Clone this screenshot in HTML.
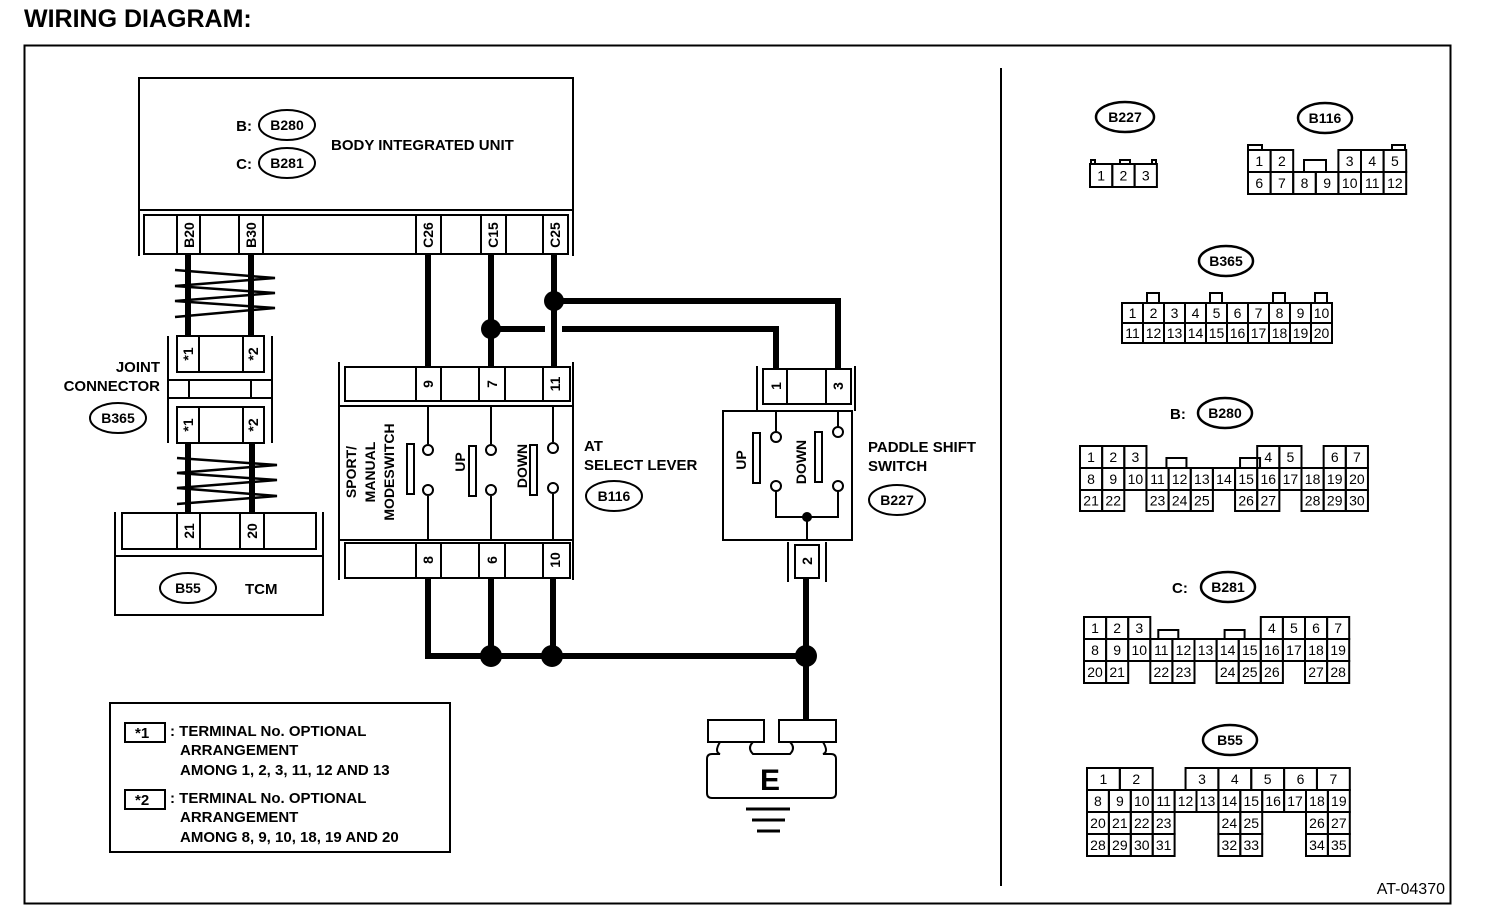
<!DOCTYPE html>
<html><head><meta charset="utf-8"><style>
html,body{margin:0;padding:0;background:#fff}
svg{display:block}
text{font-family:"Liberation Sans",sans-serif;font-weight:bold;fill:#000}
</style></head><body>
<svg id="s" width="1504" height="914" viewBox="0 0 1504 914" xmlns="http://www.w3.org/2000/svg">
<text x="24" y="27" font-size="25">WIRING DIAGRAM:</text>
<rect x="24.5" y="45.5" width="1426" height="858" fill="none" stroke="#000" stroke-width="2"/>
<line x1="1001" y1="68" x2="1001" y2="886" stroke="#000" stroke-width="2"/>
<text x="1445" y="894" font-size="16" text-anchor="end" style="font-weight:normal">AT-04370</text>

<g fill="none" stroke="#000" stroke-width="2">
<rect x="139" y="78" width="434" height="132"/>
<line x1="139" y1="210" x2="139" y2="256"/><line x1="573" y1="210" x2="573" y2="256"/>
<rect x="144" y="215" width="424" height="39"/>
<line x1="177" y1="215" x2="177" y2="254"/><line x1="200" y1="215" x2="200" y2="254"/>
<line x1="239" y1="215" x2="239" y2="254"/><line x1="263" y1="215" x2="263" y2="254"/>
<line x1="416" y1="215" x2="416" y2="254"/><line x1="441" y1="215" x2="441" y2="254"/>
<line x1="481" y1="215" x2="481" y2="254"/><line x1="506" y1="215" x2="506" y2="254"/>
<line x1="543" y1="215" x2="543" y2="254"/>
<ellipse cx="287" cy="125" rx="28" ry="15"/>
<ellipse cx="287" cy="163" rx="28" ry="15"/>

<rect x="177" y="336" width="87" height="36"/>
<line x1="199" y1="336" x2="199" y2="372"/><line x1="243" y1="336" x2="243" y2="372"/>
<line x1="168" y1="336" x2="168" y2="443"/><line x1="272" y1="336" x2="272" y2="443"/>
<line x1="168" y1="380" x2="272" y2="380"/><line x1="168" y1="398" x2="272" y2="398"/>
<line x1="189" y1="380" x2="189" y2="398"/><line x1="251" y1="380" x2="251" y2="398"/>
<rect x="177" y="407" width="87" height="36"/>
<line x1="199" y1="407" x2="199" y2="443"/><line x1="243" y1="407" x2="243" y2="443"/>
<ellipse cx="118" cy="418" rx="28" ry="15"/>
<polyline stroke-width="2.5" points="175,270 275,278 175,286 275,293 175,301 275,308 175,317"/>
<polyline stroke-width="2.5" points="177,458 277,465 177,473 277,480 177,488 277,496 177,504"/>

<line x1="115" y1="512" x2="115" y2="556"/><line x1="323" y1="512" x2="323" y2="556"/>
<rect x="122" y="513" width="194" height="36"/>
<line x1="177" y1="513" x2="177" y2="549"/><line x1="200" y1="513" x2="200" y2="549"/>
<line x1="240" y1="513" x2="240" y2="549"/><line x1="264" y1="513" x2="264" y2="549"/>
<rect x="115" y="556" width="208" height="59"/>
<ellipse cx="188" cy="588" rx="28" ry="15"/>

<line x1="339" y1="362" x2="339" y2="580"/><line x1="573" y1="362" x2="573" y2="580"/>
<rect x="345" y="367" width="225" height="34"/>
<line x1="416" y1="367" x2="416" y2="401"/><line x1="441" y1="367" x2="441" y2="401"/>
<line x1="479" y1="367" x2="479" y2="401"/><line x1="505" y1="367" x2="505" y2="401"/>
<line x1="543" y1="367" x2="543" y2="401"/>
<line x1="339" y1="406" x2="573" y2="406"/><line x1="339" y1="540" x2="573" y2="540"/>
<rect x="345" y="543" width="225" height="35"/>
<line x1="416" y1="543" x2="416" y2="578"/><line x1="441" y1="543" x2="441" y2="578"/>
<line x1="479" y1="543" x2="479" y2="578"/><line x1="505" y1="543" x2="505" y2="578"/>
<line x1="543" y1="543" x2="543" y2="578"/>
<line x1="428" y1="406" x2="428" y2="444"/><line x1="428" y1="496" x2="428" y2="540"/>
<line x1="491" y1="406" x2="491" y2="444"/><line x1="491" y1="496" x2="491" y2="540"/>
<line x1="553" y1="406" x2="553" y2="442"/><line x1="553" y1="494" x2="553" y2="540"/>
<circle cx="428" cy="450" r="5"/><circle cx="428" cy="490" r="5"/>
<circle cx="491" cy="450" r="5"/><circle cx="491" cy="490" r="5"/>
<circle cx="553" cy="448" r="5"/><circle cx="553" cy="488" r="5"/>
<rect x="407" y="444" width="7" height="50"/>
<rect x="469" y="446" width="7" height="50"/>
<rect x="530" y="445" width="7" height="50"/>
<ellipse cx="614" cy="496" rx="28" ry="15"/>

<line x1="757" y1="366" x2="757" y2="411"/><line x1="855" y1="366" x2="855" y2="411"/>
<rect x="763" y="369" width="88" height="35"/>
<line x1="787" y1="369" x2="787" y2="404"/><line x1="826" y1="369" x2="826" y2="404"/>
<rect x="723" y="411" width="129" height="129"/>
<line x1="776" y1="411" x2="776" y2="432"/><line x1="838" y1="411" x2="838" y2="427"/>
<circle cx="776" cy="437" r="5"/><circle cx="776" cy="486" r="5"/>
<circle cx="838" cy="432" r="5"/><circle cx="838" cy="486" r="5"/>
<rect x="753" y="433" width="7" height="50"/>
<rect x="815" y="432" width="7" height="50"/>
<polyline points="776,491 776,517 838,517 838,491"/>
<line x1="807" y1="517" x2="807" y2="540"/>
<line x1="788" y1="542" x2="788" y2="582"/><line x1="826" y1="542" x2="826" y2="582"/>
<rect x="795" y="545" width="24" height="33"/>
<ellipse cx="897" cy="500" rx="28" ry="15"/>

<rect x="708" y="720" width="56" height="22"/>
<rect x="779" y="720" width="57" height="22"/>
<path d="M720,742 q-6,10 0,12 H712 q-5,0 -5,5 V793 q0,5 5,5 H831 q5,0 5,-5 V759 q0,-5 -5,-5 H823 q6,-2 0,-12 M753,742 q-6,6 0,12 H790 q6,-6 0,-12"/>
<line x1="746" y1="809" x2="790" y2="809" stroke-width="3"/>
<line x1="752" y1="820" x2="785" y2="820" stroke-width="3"/>
<line x1="757" y1="831" x2="780" y2="831" stroke-width="3"/>

<rect x="110" y="703" width="340" height="149"/>
<rect x="125" y="723" width="40" height="19"/>
<rect x="125" y="790" width="40" height="19"/>
</g>

<g stroke="#000" stroke-width="6" fill="none">
<line x1="188" y1="255" x2="188" y2="336"/><line x1="251" y1="255" x2="251" y2="336"/>
<line x1="188" y1="443" x2="188" y2="513"/><line x1="252" y1="443" x2="252" y2="513"/>
<line x1="428" y1="255" x2="428" y2="367"/>
<line x1="491" y1="255" x2="491" y2="367"/>
<line x1="554" y1="255" x2="554" y2="367"/>
<polyline points="554,301 838,301 838,369"/>
<line x1="491" y1="329" x2="545" y2="329"/>
<polyline points="562,329 776,329 776,369"/>
<polyline points="428,578 428,656 806,656"/>
<line x1="491" y1="578" x2="491" y2="656"/>
<line x1="553" y1="578" x2="553" y2="656"/>
<line x1="806" y1="578" x2="806" y2="720"/>
</g>
<g fill="#000">
<circle cx="554" cy="301" r="10"/><circle cx="491" cy="329" r="10"/>
<circle cx="491" cy="656" r="11"/><circle cx="552" cy="656" r="11"/><circle cx="806" cy="656" r="11"/>
<circle cx="807" cy="517" r="5"/>
</g>

<g font-size="15">
<text x="252" y="131" text-anchor="end">B:</text>
<text x="252" y="169" text-anchor="end">C:</text>
<text x="331" y="150">BODY INTEGRATED UNIT</text>
<text x="160" y="372" text-anchor="end">JOINT</text>
<text x="160" y="391" text-anchor="end">CONNECTOR</text>
<text x="584" y="451">AT</text>
<text x="584" y="470">SELECT LEVER</text>
<text x="868" y="452">PADDLE SHIFT</text>
<text x="868" y="471">SWITCH</text>
<text x="245" y="594">TCM</text>
</g>
<g font-size="14" text-anchor="middle">
<text x="287" y="130">B280</text>
<text x="287" y="168">B281</text>
<text x="118" y="423">B365</text>
<text x="188" y="593">B55</text>
<text x="614" y="501">B116</text>
<text x="897" y="505">B227</text>
</g>
<g font-size="14">
<text transform="translate(194,235) rotate(-90)" text-anchor="middle">B20</text>
<text transform="translate(256,235) rotate(-90)" text-anchor="middle">B30</text>
<text transform="translate(433,235) rotate(-90)" text-anchor="middle">C26</text>
<text transform="translate(498,235) rotate(-90)" text-anchor="middle">C15</text>
<text transform="translate(560,235) rotate(-90)" text-anchor="middle">C25</text>
<text transform="translate(193,354) rotate(-90)" text-anchor="middle">*1</text>
<text transform="translate(258,354) rotate(-90)" text-anchor="middle">*2</text>
<text transform="translate(193,425) rotate(-90)" text-anchor="middle">*1</text>
<text transform="translate(258,425) rotate(-90)" text-anchor="middle">*2</text>
<text transform="translate(194,531) rotate(-90)" text-anchor="middle">21</text>
<text transform="translate(257,531) rotate(-90)" text-anchor="middle">20</text>
<text transform="translate(433,384) rotate(-90)" text-anchor="middle">9</text>
<text transform="translate(497,384) rotate(-90)" text-anchor="middle">7</text>
<text transform="translate(560,384) rotate(-90)" text-anchor="middle">11</text>
<text transform="translate(433,560) rotate(-90)" text-anchor="middle">8</text>
<text transform="translate(497,560) rotate(-90)" text-anchor="middle">6</text>
<text transform="translate(560,560) rotate(-90)" text-anchor="middle">10</text>
<text transform="translate(781,386) rotate(-90)" text-anchor="middle">1</text>
<text transform="translate(843,386) rotate(-90)" text-anchor="middle">3</text>
<text transform="translate(812,561) rotate(-90)" text-anchor="middle">2</text>
<text transform="translate(356,472) rotate(-90)" text-anchor="middle">SPORT/</text>
<text transform="translate(375,472) rotate(-90)" text-anchor="middle">MANUAL</text>
<text transform="translate(394,472) rotate(-90)" text-anchor="middle">MODESWITCH</text>
<text transform="translate(465,462) rotate(-90)" text-anchor="middle">UP</text>
<text transform="translate(527,466) rotate(-90)" text-anchor="middle">DOWN</text>
<text transform="translate(746,460) rotate(-90)" text-anchor="middle">UP</text>
<text transform="translate(806,462) rotate(-90)" text-anchor="middle">DOWN</text>
</g>
<text x="770" y="790" font-size="30" text-anchor="middle">E</text>
<g font-size="15">
<text x="135" y="738">*1</text><text x="135" y="805">*2</text>
<text x="170" y="736">: TERMINAL No. OPTIONAL</text>
<text x="180" y="755">ARRANGEMENT</text>
<text x="180" y="775">AMONG 1, 2, 3, 11, 12 AND 13</text>
<text x="170" y="803">: TERMINAL No. OPTIONAL</text>
<text x="180" y="822">ARRANGEMENT</text>
<text x="180" y="842">AMONG 8, 9, 10, 18, 19 AND 20</text>
</g>

<g fill="none" stroke="#000" stroke-width="2.5">
<ellipse cx="1125" cy="117" rx="29" ry="15"/>
<ellipse cx="1325" cy="118" rx="27" ry="15"/>
<ellipse cx="1226" cy="261" rx="27" ry="15"/>
<ellipse cx="1225" cy="413" rx="27" ry="15"/>
<ellipse cx="1228" cy="587" rx="27" ry="15"/>
<ellipse cx="1230" cy="740" rx="27" ry="15"/>
</g>
<g font-size="14" text-anchor="middle">
<text x="1125" y="122">B227</text><text x="1325" y="123">B116</text>
<text x="1226" y="266">B365</text><text x="1225" y="418">B280</text>
<text x="1228" y="592">B281</text><text x="1230" y="745">B55</text>
</g>
<g font-size="15"><text x="1170" y="419">B:</text><text x="1172" y="593">C:</text></g>
<g id="grids" fill="none" stroke="#000" stroke-width="2"></g>
<g id="gt" font-size="14" text-anchor="middle"></g>
</svg>
<script>
var G=document.getElementById('grids'),T=document.getElementById('gt'),NS='http://www.w3.org/2000/svg';
function cell(x,y,w,h,t){var r=document.createElementNS(NS,'rect');r.setAttribute('x',x);r.setAttribute('y',y);r.setAttribute('width',w);r.setAttribute('height',h);G.appendChild(r);
if(t!==undefined){var e=document.createElementNS(NS,'text');e.setAttribute('x',x+w/2);e.setAttribute('y',y+h/2+5);e.setAttribute('style','font-weight:normal');e.textContent=t;T.appendChild(e);}}
function row(x0,cw,y,h,spec){spec.forEach(function(p){cell(x0+p[0]*cw,y,cw*(p[2]||1),h,p[1]);});}
function seq(cols,start){return cols.map(function(c,i){return [c,start+i];});}
cell(1120,160,10,4);cell(1091,160,4,4);cell(1152,160,4,4);
row(1090,22.3,164,23,seq([0,1,2],1));
cell(1248,145,14,5);cell(1392,145,13,5);cell(1304,160,22,12);
row(1248,22.6,150,22,[[0,1],[1,2],[4,3],[5,4],[6,5]]);
row(1248,22.6,172,22,seq([0,1,2,3,4,5,6],6));
[1,4,7,9].forEach(function(c){cell(1122+c*21+4,293,12,10);});
row(1122,21,303,20,seq([0,1,2,3,4,5,6,7,8,9],1));
row(1122,21,323,20,seq([0,1,2,3,4,5,6,7,8,9],11));
var w=22.15;cell(1080+3*w+20,458,20,10);cell(1080+7*w+5,458,20,10);
row(1080,w,446,22,[[0,1],[1,2],[2,3],[8,4],[9,5],[11,6],[12,7]]);
row(1080,w,468,22,seq([0,1,2,3,4,5,6,7,8,9,10,11,12],8));
row(1080,w,490,21,[[0,21],[1,22],[3,23],[4,24],[5,25],[7,26],[8,27],[10,28],[11,29],[12,30]]);
w=22.1;cell(1084+3*w+8,630,20,9);cell(1084+6*w+8,630,20,9);
row(1084,w,617,22,[[0,1],[1,2],[2,3],[8,4],[9,5],[10,6],[11,7]]);
row(1084,w,639,22,seq([0,1,2,3,4,5,6,7,8,9,10,11],8));
row(1084,w,661,22,[[0,20],[1,21],[3,22],[4,23],[6,24],[7,25],[8,26],[10,27],[11,28]]);
w=21.9;
row(1087,w*1.5,768,22,[[0,1],[1,2],[3,3],[4,4],[5,5],[6,6],[7,7]]);
row(1087,w,790,22,seq([0,1,2,3,4,5,6,7,8,9,10,11],8));
row(1087,w,812,22,[[0,20],[1,21],[2,22],[3,23],[6,24],[7,25],[10,26],[11,27]]);
row(1087,w,834,22,[[0,28],[1,29],[2,30],[3,31],[6,32],[7,33],[10,34],[11,35]]);
</script>
</body></html>
